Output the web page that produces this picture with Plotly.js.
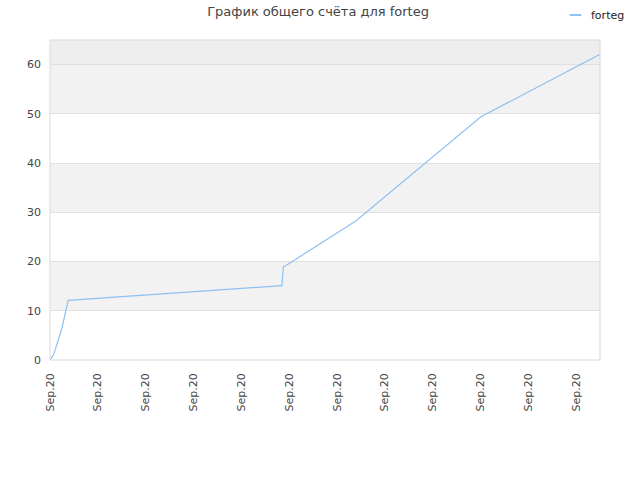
<!DOCTYPE html>
<html>
<head>
<meta charset="utf-8">
<script src="https://cdn.plot.ly/plotly-3.0.1.min.js"></script>
<style>html,body{margin:0;padding:0;background:#fff;}#chart{width:640px;height:480px;}</style>
</head>
<body>
<div id="chart"></div>
<script>
// Cumulative score for player "forteg" (x = position along the date axis)
const seriesName = "forteg";
const xPos = [0, 0.07, 0.12, 0.25, 0.38, 4.85, 4.88, 4.92, 6.40, 9.01, 11.5];
const score = [0, 1, 2.4, 6.5, 12.1, 15.1, 19.0, 19.1, 28.3, 49.4, 62.1];
const tickPos = [0, 1, 2, 3, 4, 5, 6, 7, 8, 9, 10, 11];
const tickText = ["Sep.20","Sep.20","Sep.20","Sep.20","Sep.20","Sep.20","Sep.20","Sep.20","Sep.20","Sep.20","Sep.20","Sep.20"];
const yMax = 65;
const xMax = 11.5;
const lineColor = "#8ec0f2";

// Alternating horizontal bands behind the plot
const bands = [
  {y0: 10, y1: 20, c: "#f2f2f2"},
  {y0: 30, y1: 40, c: "#f2f2f2"},
  {y0: 50, y1: 60, c: "#f2f2f2"},
  {y0: 60, y1: 65, c: "#eeeeee"}
];
const shapes = bands.map(b => ({
  type: "rect", xref: "paper", yref: "y", x0: 0, x1: 1, y0: b.y0, y1: b.y1,
  fillcolor: b.c, line: {width: 0}, layer: "below"
}));
shapes.push({
  type: "rect", xref: "paper", yref: "paper", x0: 0, x1: 1, y0: 0, y1: 1,
  line: {color: "#d9d9d9", width: 1}, fillcolor: "rgba(0,0,0,0)", layer: "above"
});
// Compact legend key drawn above the plot's top-right corner
shapes.push({
  type: "line", xref: "paper", yref: "paper", x0: 0.945, x1: 0.966, y0: 1.078, y1: 1.078,
  line: {color: lineColor, width: 2}
});

const trace = {
  x: xPos, y: score, type: "scatter", mode: "lines", name: seriesName,
  line: {color: lineColor, width: 1.2}, showlegend: false
};

const layout = {
  width: 640, height: 480,
  margin: {l: 50, r: 40, t: 40, b: 120},
  paper_bgcolor: "#ffffff", plot_bgcolor: "#ffffff",
  font: {family: "DejaVu Sans, sans-serif", size: 11, color: "#444"},
  title: {text: "График общего счёта для forteg", x: 0.497, xanchor: "center", y: 0.985, yanchor: "top",
          font: {family: "DejaVu Sans, sans-serif", size: 13, color: "#444"}},
  showlegend: false,
  annotations: [{
    xref: "paper", yref: "paper", x: 0.98, y: 1.078, xanchor: "left", yanchor: "middle",
    text: seriesName, showarrow: false, font: {size: 11, color: "#222"}
  }],
  xaxis: {
    range: [0, xMax], tickmode: "array", tickvals: tickPos, ticktext: tickText,
    tickangle: -90, showgrid: false, zeroline: false, showline: false,
    ticks: "", ticklabelstandoff: 10, tickfont: {size: 11, color: "#444"}, fixedrange: true
  },
  yaxis: {
    range: [0, yMax], tickmode: "array", tickvals: [0, 10, 20, 30, 40, 50, 60],
    showgrid: true, gridcolor: "#e0e0e0", gridwidth: 1, zeroline: false, showline: false,
    ticks: "", ticklabelstandoff: 8, tickfont: {size: 11, color: "#444"}, fixedrange: true
  },
  shapes: shapes
};

Plotly.newPlot("chart", [trace], layout, {displayModeBar: false, staticPlot: true});
</script>
</body>
</html>
